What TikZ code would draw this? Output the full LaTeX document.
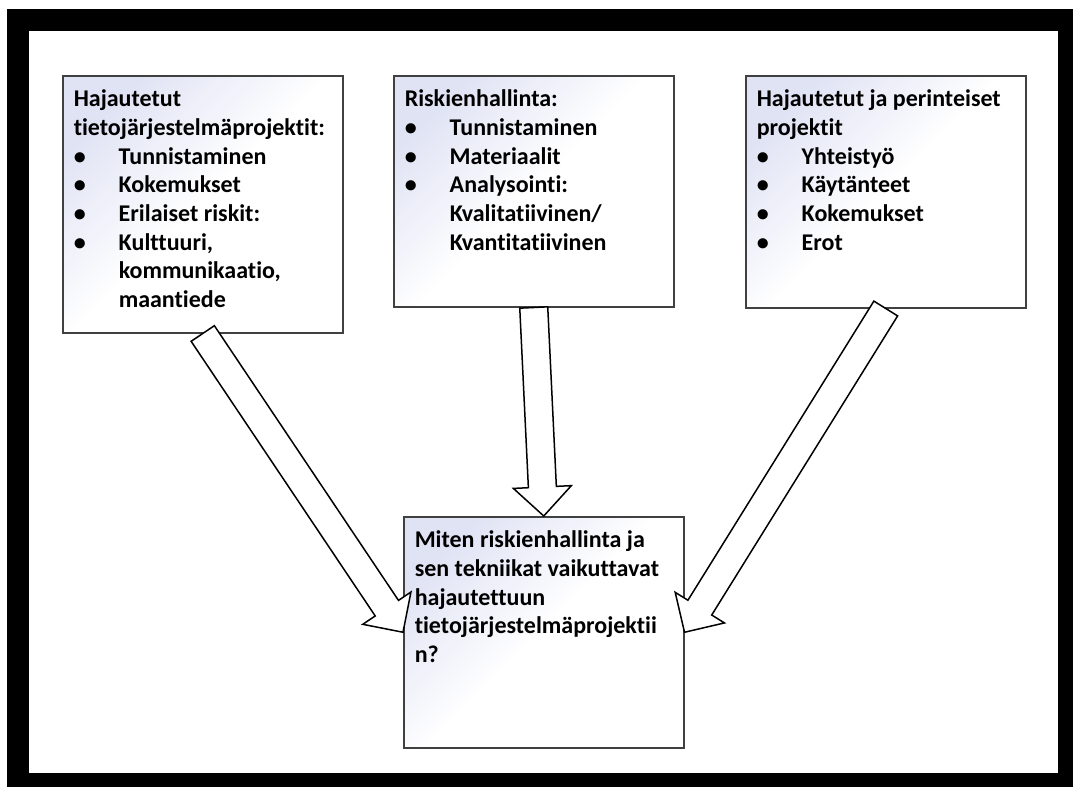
\documentclass[tikz,border=0pt]{standalone}
\usepackage{fontspec}
\setmainfont{Carlito}[Ligatures=NoCommon]
\usetikzlibrary{calc}
\definecolor{boxline}{RGB}{64,64,64}
\definecolor{boxtint}{RGB}{224,227,244}
\newcommand{\bul}{\makebox[45pt][l]{\textbullet}}
\newcommand{\ind}{\hspace*{45pt}}
\newcommand{\boxtext}[2]{\parbox[c][#1][t]{258pt}{\raggedright\rule{0pt}{31pt}#2}}
% wide hollow arrow from #1 to #2
\newcommand{\blockarrow}[2]{%
  \coordinate (hb) at ($(#2)!29pt!(#1)$);
  \draw[bigarrow]
    ($(#1)!14pt!90:(#2)$) -- ($(hb)!14pt!90:(#2)$) -- ($(hb)!29pt!90:(#2)$)
    -- (#2)
    -- ($(hb)!29pt!-90:(#2)$) -- ($(hb)!14pt!-90:(#2)$) -- ($(#1)!14pt!-90:(#2)$)
    -- cycle;}
\begin{document}
\begin{tikzpicture}[x=1pt, y=-1pt,
    infobox/.style={draw=boxline, line width=1.5pt, anchor=north west,
      inner xsep=11pt, inner ysep=0pt,
      top color=boxtint, bottom color=white, middle color=white, shading angle=45,
      font=\fontsize{24}{28.7}\selectfont\bfseries},
    bigarrow/.style={draw=black, line width=1.5pt, fill=white, line join=miter}]
  \useasboundingbox (0,0) rectangle (1073,787);
  \fill[white] (0,0) rectangle (1073,787);
  % frame
  \fill[black] (7,9) rectangle (1073,787);
  \fill[white] (29,31) rectangle (1058,773);

  \node[infobox] (hajautetut) at (62,75) {\boxtext{257pt}{Hajautetut\\
    tietojärjestelmäprojektit:\\
    \bul Tunnistaminen\\
    \bul Kokemukset\\
    \bul Erilaiset riskit:\\
    \bul Kulttuuri,\\
    \ind kommunikaatio,\\
    \ind maantiede}};

  \node[infobox] (riski) at (393,75) {\boxtext{231pt}{Riskienhallinta:\\
    \bul Tunnistaminen\\
    \bul Materiaalit\\
    \bul Analysointi:\\
    \ind Kvalitatiivinen/\\
    \ind Kvantitatiivinen}};

  \node[infobox] (perinteiset) at (745,75) {\boxtext{232pt}{Hajautetut ja perinteiset\\
    projektit\\
    \bul Yhteistyö\\
    \bul Käytänteet\\
    \bul Kokemukset\\
    \bul Erot}};

  \node[infobox] (kysymys) at (403,516) {\boxtext{231pt}{Miten riskienhallinta ja\\
    sen tekniikat vaikuttavat\\
    hajautettuun\\
    tietojärjestelmäprojektii\\
    n?}};

  \blockarrow{hajautetut.south}{kysymys.west}
  \blockarrow{riski.south}{kysymys.north}
  \blockarrow{perinteiset.south}{kysymys.east}
\end{tikzpicture}
\end{document}
